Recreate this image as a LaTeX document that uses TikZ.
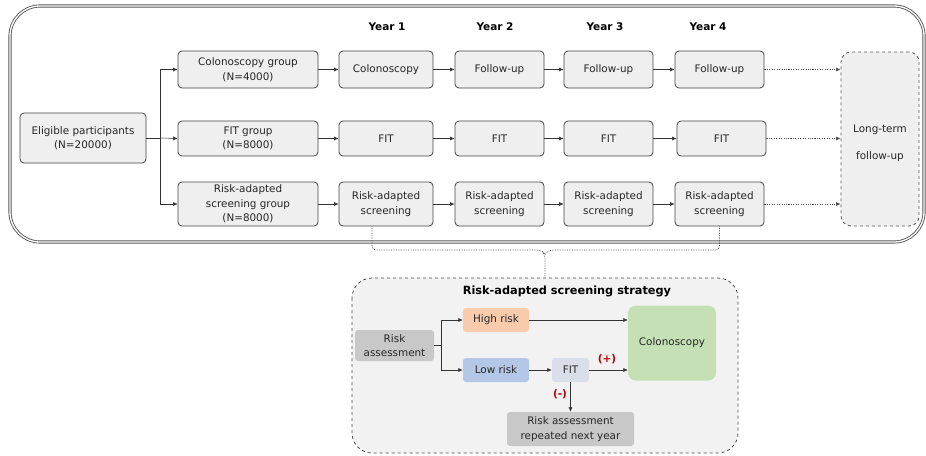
\documentclass[tikz,border=0pt]{standalone}
\usepackage{fontspec}
\setmainfont{DejaVu Sans}
\usetikzlibrary{arrows.meta,calc}
\definecolor{boxfill}{HTML}{EFEFEF}
\definecolor{boxline}{HTML}{454545}
\definecolor{highrisk}{HTML}{F8CBAD}
\definecolor{lowrisk}{HTML}{B4C7E7}
\definecolor{fitfill}{HTML}{D9DEE8}
\definecolor{colofill}{HTML}{C5E0B4}
\definecolor{grayfill}{HTML}{C8C8C8}
\definecolor{plusred}{HTML}{C00000}
\tikzset{
  x=1pt, y=-1pt,
  txt/.style={font=\fontsize{10.4}{14.5}\selectfont, text=black!85, align=center},
  gbox/.style={txt, draw=boxline, fill=boxfill, rounded corners=4pt, line width=0.8pt, inner sep=0pt},
  sbox/.style={txt, rounded corners=3pt, inner sep=0pt},
  yearlbl/.style={font=\fontsize{10.5}{12}\selectfont\bfseries, text=black},
  arr/.style={-{Latex[length=4.5pt,width=4pt]}, line width=0.5pt, draw=black!80},
  dotarr/.style={-{Latex[length=4.5pt,width=4pt]}, line width=0.6pt, draw=black!70, dash pattern=on 1.2pt off 1.5pt on 0.6pt off 1.5pt},
  sign/.style={font=\fontsize{10.5}{12}\selectfont\bfseries, text=plusred},
}
\begin{document}
\begin{tikzpicture}
\useasboundingbox (0,0) rectangle (926,455);
% outer frame
\draw[double=white, draw=black!65, line width=0.9pt, double distance=1.3pt, rounded corners=30pt, fill=white] (10,6) rectangle (924,242);

% year labels
\node[yearlbl] (y1) at (387,27) {Year 1};
\node[yearlbl] (y2) at (495,27) {Year 2};
\node[yearlbl] (y3) at (605,27) {Year 3};
\node[yearlbl] (y4) at (708,27) {Year 4};

% main nodes
\node[gbox, minimum width=126, minimum height=50] (elig) at (83,138) {Eligible participants\\(N=20000)};
\node[gbox, minimum width=140, minimum height=37] (cg) at (248,69.5) {Colonoscopy group\\(N=4000)};
\node[gbox, minimum width=140, minimum height=35] (fg) at (248,138.5) {FIT group\\(N=8000)};
\node[gbox, minimum width=140, minimum height=44] (rg) at (248,204) {Risk-adapted\\screening group\\(N=8000)};

\node[gbox, minimum width=94, minimum height=37] (c1) at (386,69.5) {Colonoscopy};
\node[gbox, minimum width=89, minimum height=37] (c2) at (499.5,69.5) {Follow-up};
\node[gbox, minimum width=89, minimum height=37] (c3) at (608.5,69.5) {Follow-up};
\node[gbox, minimum width=89, minimum height=37] (c4) at (719.5,69.5) {Follow-up};

\node[gbox, minimum width=94, minimum height=35] (f1) at (386,138.5) {FIT};
\node[gbox, minimum width=89, minimum height=35] (f2) at (499.5,138.5) {FIT};
\node[gbox, minimum width=89, minimum height=35] (f3) at (608.5,138.5) {FIT};
\node[gbox, minimum width=89, minimum height=35] (f4) at (721.5,138.5) {FIT};

\node[gbox, minimum width=94, minimum height=44] (r1) at (386,204) {Risk-adapted\\screening};
\node[gbox, minimum width=89, minimum height=44] (r2) at (499.5,204) {Risk-adapted\\screening};
\node[gbox, minimum width=89, minimum height=44] (r3) at (608.5,204) {Risk-adapted\\screening};
\node[gbox, minimum width=89, minimum height=44] (r4) at (719.5,204) {Risk-adapted\\screening};

\node[gbox, draw=black!65, dashed, line width=0.9pt, rounded corners=10pt, minimum width=78, minimum height=174] (lt) at (880,139) {};
\node[txt] (ltlbl) at (880,143.5) {Long-term\\[13pt]follow-up};

% branching
\coordinate (bx) at (160,138);
\draw[line width=0.5pt, draw=black!80] (elig.east) -- (bx);
\draw[arr] (bx) |- (cg.west);
\draw[arr] (bx) -- (fg.west);
\draw[arr] (bx) |- (rg.west);

\foreach \a/\b in {cg/c1,c1/c2,c2/c3,c3/c4,fg/f1,f1/f2,f2/f3,f3/f4,rg/r1,r1/r2,r2/r3,r3/r4} {
  \draw[arr] (\a) -- (\b);
}
\draw[dotarr] (c4.east) -- (c4.east -| lt.west);
\draw[dotarr] (f4.east) -- (f4.east -| lt.west);
\draw[dotarr] (r4.east) -- (r4.east -| lt.west);

% strategy box
\draw[dashed, draw=black!70, line width=0.8pt, fill=black!5, rounded corners=20pt] (352,278) rectangle (738,453);
\coordinate (bl) at ($(r1.south)+(-14,0)$);
\coordinate (br) at (r4.south);
\coordinate (tip) at (545,278);
\draw[line width=0.7pt, draw=black!70, densely dotted, rounded corners=4pt] (bl) |- (541,250) -- (545,254) -- (tip);
\draw[line width=0.7pt, draw=black!70, densely dotted, rounded corners=4pt] (br) |- (549,250) -- (545,254);

\node[font=\fontsize{11.3}{13}\selectfont\bfseries, text=black] (title) at (567,291) {Risk-adapted screening strategy};

\node[sbox, fill=grayfill, minimum width=79, minimum height=31] (ra) at (394.5,345.5) {Risk\\assessment};
\node[sbox, fill=highrisk, minimum width=66, minimum height=24] (hr) at (496,320) {High risk};
\node[sbox, fill=lowrisk, minimum width=66, minimum height=24] (lr) at (496,370) {Low risk};
\node[sbox, fill=fitfill, minimum width=37, minimum height=24] (fit) at (570.5,370) {FIT};
\node[sbox, fill=colofill, rounded corners=8pt, minimum width=88, minimum height=75] (col) at (672,343) {Colonoscopy};
\node[sbox, fill=grayfill, minimum width=127, minimum height=34] (rep) at (570.5,429) {Risk assessment\\repeated next year};

\coordinate (sx) at (441,345.5);
\draw[line width=0.5pt, draw=black!80] (ra.east) -- (sx);
\draw[arr] (sx) |- (hr.west);
\draw[arr] (sx) |- (lr.west);
\draw[arr] (hr.east) -- (hr.east -| col.west);
\draw[arr] (lr) -- (fit);
\draw[arr] (fit.east) -- (fit.east -| col.west);
\draw[arr] (fit.south) -- (rep.north);
\node[sign] (plus) at (607,359) {(+)};
\node[sign] (minus) at (560,394) {(-)};
\end{tikzpicture}
\end{document}
